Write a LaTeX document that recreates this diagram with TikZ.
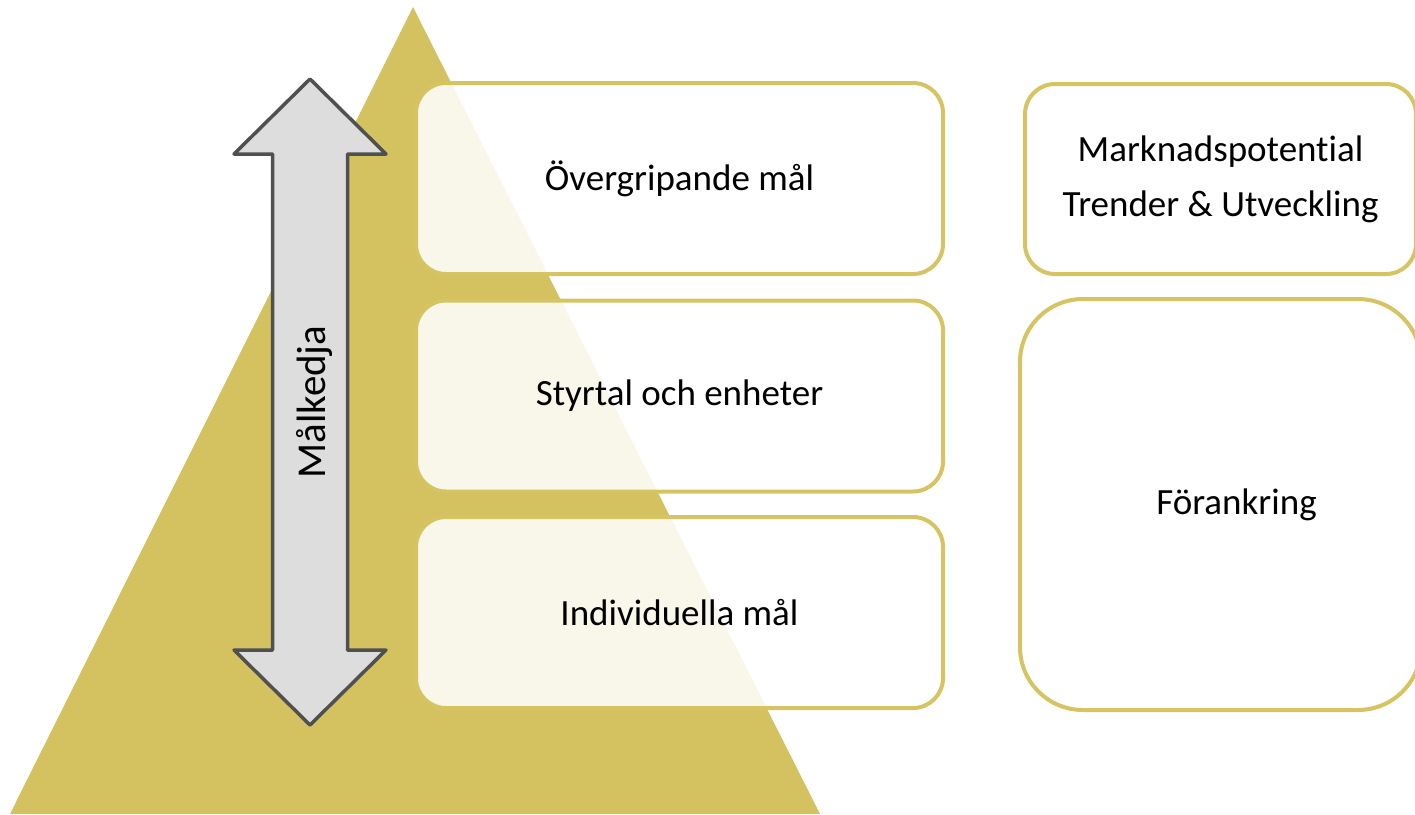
\documentclass[tikz,border=0pt]{standalone}
\usepackage{fontspec}
\setmainfont[Ligatures=NoCommon]{Carlito}
\usepackage{tikz}
\usetikzlibrary{positioning}

\definecolor{guld}{RGB}{212,194,96}
\definecolor{guldkant}{RGB}{214,196,98}
\definecolor{pilfyll}{RGB}{221,221,221}
\definecolor{pilkant}{RGB}{80,80,80}

\tikzset{
    malbox/.style={draw=guldkant, line width=4pt, rounded corners=30pt,
        fill=white, fill opacity=0.87, text opacity=1, inner sep=0pt,
        minimum width=527pt, minimum height=191pt, align=center,
        font=\fontsize{37}{55}\selectfont},
    sidobox/.style={malbox, fill opacity=1}
}

\begin{document}
\begin{tikzpicture}[x=1pt, y=-1pt]
    % Ram for bilden
    \useasboundingbox (0,0) rectangle (1415,814);

    % Triangeln i bakgrunden
    \fill[guld] (413,7) -- (820,814) -- (10,814) -- cycle;

    % Dubbelpilen
    \draw[pilkant, fill=pilfyll, line width=3.5pt, line join=round]
        (310,79) -- (386,154) -- (347.5,154) -- (347.5,650) -- (386,650)
        -- (310,725) -- (234,650) -- (272.5,650) -- (272.5,154)
        -- (234,154) -- cycle;
    \node[rotate=90, font=\fontsize{41}{48}\selectfont] (kedja) at (314,402) {Målkedja};

    % Rutorna i mitten
    \node[malbox] (overgripande) at (679.5,178.5) {Övergripande mål};
    \node[malbox] (styrtal) at (679.5,396) {Styrtal och enheter};
    \node[malbox] (individ) at (679.5,612.5) {Individuella mål};

    % Rutorna till hoger
    \node[sidobox, minimum width=391pt, minimum height=190pt] (marknad)
        at (1220.5,179) {Marknadspotential\\Trender \& Utveckling};
    \node[sidobox, minimum width=401pt, minimum height=411pt, rounded corners=63pt]
        (forankring) at (1220.5,504.5) {};
    \node[font=\fontsize{37}{55}\selectfont, xshift=16pt] (forankringtext)
        at (forankring.center) {Förankring};
\end{tikzpicture}
\end{document}
